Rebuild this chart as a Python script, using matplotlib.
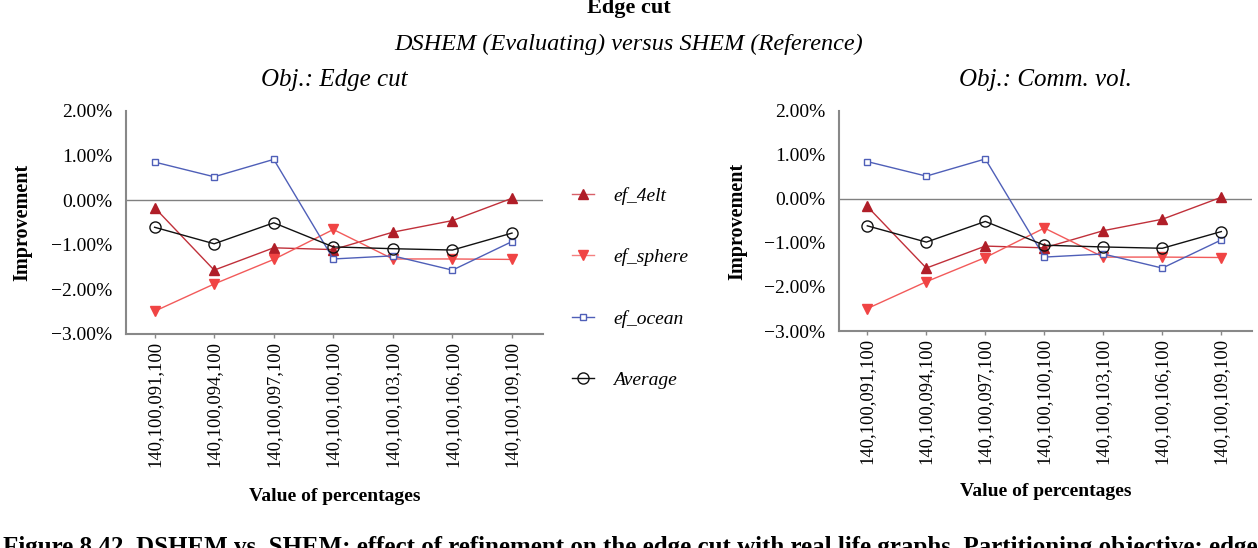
import numpy as np
import matplotlib.pyplot as plt
from matplotlib.ticker import FuncFormatter, MultipleLocator
from matplotlib.lines import Line2D

plt.rcParams['font.family'] = ['Liberation Serif', 'DejaVu Serif']
plt.rcParams['axes.unicode_minus'] = True

# 数据：横轴类别与各系列改进百分比
categories = ['140,100,091,100', '140,100,094,100', '140,100,097,100', '140,100,100,100',
              '140,100,103,100', '140,100,106,100', '140,100,109,100']
ef_4elt = [-0.17, -1.57, -1.07, -1.11, -0.72, -0.46, 0.04]
ef_sphere = [-2.49, -1.88, -1.33, -0.66, -1.32, -1.32, -1.33]
ef_ocean = [0.85, 0.52, 0.91, -1.32, -1.25, -1.57, -0.93]
average = [-0.61, -0.98, -0.51, -1.05, -1.09, -1.12, -0.74]

panel_titles = ['Obj.: Edge cut', 'Obj.: Comm. vol.']

W, H = 1258, 548


def fx(px):
    return px / W


def fy(py):
    return 1 - py / H


def pct(v, pos):
    s = f"{v:.2f}%"
    return s.replace('-', '\u2212')


def draw_panel(ax):
    x = np.arange(len(categories))
    ax.axhline(0, color='#808080', lw=1.0, zorder=1)
    ax.plot(x, ef_4elt, color='#c0303a', lw=1.0, marker='^', ms=7,
            mfc='#b01e28', mec='#b01e28', zorder=3)
    ax.plot(x, ef_sphere, color='#f25a5a', lw=1.0, marker='v', ms=7,
            mfc='#f04444', mec='#f04444', zorder=3)
    ax.plot(x, ef_ocean, color='#4f5fb8', lw=1.0, marker='s', ms=5,
            mfc='white', mec='#4f5fb8', mew=1.0, zorder=4)
    ax.plot(x, average, color='#111111', lw=1.0, marker='o', ms=8,
            mfc='none', mec='#111111', mew=1.0, zorder=5)

    ax.set_xlim(-0.48, 6.52)
    ax.set_ylim(-3, 2)
    ax.yaxis.set_major_locator(MultipleLocator(1))
    ax.yaxis.set_major_formatter(FuncFormatter(pct))
    ax.set_xticks(x)
    ax.set_xticklabels(categories, rotation=90, fontsize=13.3)
    ax.tick_params(axis='x', length=3, width=1, color='#888888', pad=2)
    ax.tick_params(axis='y', length=0, labelsize=14, pad=10)

    for side in ['top', 'right']:
        ax.spines[side].set_visible(False)
    for side in ['left', 'bottom']:
        ax.spines[side].set_color('#888888')
        ax.spines[side].set_linewidth(1.5)

    ax.set_ylabel('Improvement', fontsize=14.5, fontweight='bold')
    ax.set_xlabel('Value of percentages', fontsize=14, fontweight='bold')


def main():
    fig = plt.figure(figsize=(12.58, 5.48), dpi=100)

    ax1 = fig.add_axes([fx(126), fy(334), fx(543 - 126), (334 - 110.7) / H])
    ax2 = fig.add_axes([fx(839), fy(331), fx(1252 - 839), (331 - 111) / H])

    for ax, title, cx in [(ax1, panel_titles[0], 334), (ax2, panel_titles[1], 1045)]:
        draw_panel(ax)
        fig.text(fx(cx), fy(80), title, ha='center', va='center',
                 fontsize=18, style='italic')

    ax1.yaxis.set_label_coords(-0.225, 0.5)
    ax2.yaxis.set_label_coords(-0.222, 0.5)
    ax1.xaxis.set_label_coords(0.5, -0.69)
    ax2.xaxis.set_label_coords(0.5, -0.69)

    # 总标题
    fig.text(fx(629), fy(8), 'Edge cut', ha='center', va='center',
             fontsize=16, fontweight='bold')
    fig.text(fx(629), fy(44), 'DSHEM (Evaluating) versus SHEM (Reference)',
             ha='center', va='center', fontsize=17.5, style='italic')

    # 图例
    handles = [
        Line2D([], [], color='#d86068', lw=1.0, marker='^', ms=7, mfc='#b01e28', mec='#b01e28'),
        Line2D([], [], color='#f48080', lw=1.0, marker='v', ms=7, mfc='#f04444', mec='#f04444'),
        Line2D([], [], color='#4f5fb8', lw=1.0, marker='s', ms=5, mfc='white', mec='#4f5fb8'),
        Line2D([], [], color='#111111', lw=1.0, marker='o', ms=8, mfc='none', mec='#111111'),
    ]
    labels = ['ef_4elt', 'ef_sphere', 'ef_ocean', 'Average']
    fig.legend(handles, labels, loc='upper left', bbox_to_anchor=(fx(562), fy(177)),
               frameon=False, prop={'family': 'Liberation Serif', 'style': 'italic', 'size': 14},
               handlelength=1.15, handletextpad=1.0, labelspacing=2.25, borderpad=0)

    # 图注（底部被裁切）
    fig.text(fx(3), fy(536),
             'Figure 8.42. DSHEM vs. SHEM: effect of refinement on the edge cut with real life graphs. '
             'Partitioning objective: edge',
             ha='left', va='top', fontsize=18, fontweight='bold')

    fig.savefig('out.png', dpi=100)
    plt.close(fig)


if __name__ == '__main__':
    main()
